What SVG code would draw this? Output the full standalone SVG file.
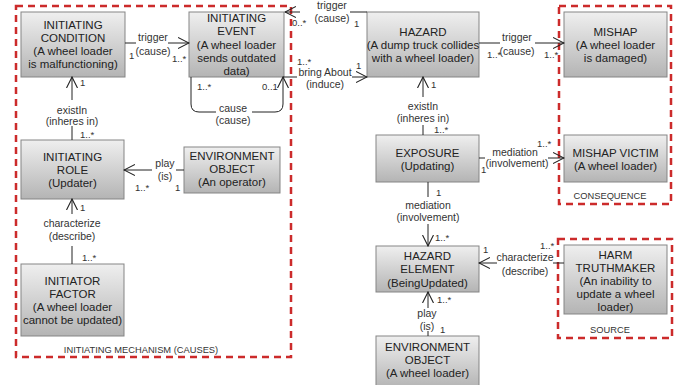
<svg xmlns="http://www.w3.org/2000/svg" width="692" height="385" viewBox="0 0 692 385">
  <defs>
    <linearGradient id="boxFill" x1="0" y1="0" x2="0" y2="1">
      <stop offset="0" stop-color="#efefef"/>
      <stop offset="1" stop-color="#b4b4b4"/>
    </linearGradient>
    <marker id="open" viewBox="0 0 12 12" refX="11" refY="6" markerWidth="12" markerHeight="12" markerUnits="userSpaceOnUse" orient="auto">
      <path d="M0,0.5 L11,6 L0,11.5" fill="none" stroke="#222" stroke-width="1.1"/>
    </marker>
    <style>
      .box rect { fill: url(#boxFill); stroke: #858585; stroke-width: 1; }
      .box text { font-family: "Liberation Sans", Arial, sans-serif; font-size: 11.5px; fill: #222; text-anchor: middle; }
      .edge { fill: none; stroke: #222; stroke-width: 1; }
      .arrow { marker-end: url(#open); }
      .lbl { font-family: "Liberation Sans", Arial, sans-serif; font-size: 10.5px; fill: #333; text-anchor: middle; }
      .mult { font-family: "Liberation Sans", Arial, sans-serif; font-size: 9.5px; fill: #333; }
      .zone { fill: none; stroke: #cc2b2b; stroke-width: 2.5; stroke-dasharray: 7 5; }
      .zlbl { font-family: "Liberation Sans", Arial, sans-serif; font-size: 9.3px; fill: #333; text-anchor: middle; }
    </style>
  </defs>
  <rect width="692" height="385" fill="#ffffff"/>

  <!-- nodes -->
  <g id="initiating-condition" class="box">
    <rect x="21" y="12" width="104" height="65"/>
    <text x="73" y="29">INITIATING</text>
    <text x="73" y="42">CONDITION</text>
    <text x="73" y="55">(A wheel loader</text>
    <text x="73" y="68">is malfunctioning)</text>
  </g>
  <g id="initiating-event" class="box">
    <rect x="189" y="12" width="95" height="65"/>
    <text x="236.5" y="22">INITIATING</text>
    <text x="236.5" y="35">EVENT</text>
    <text x="236.5" y="49">(A wheel loader</text>
    <text x="236.5" y="62">sends outdated</text>
    <text x="236.5" y="75">data)</text>
  </g>
  <g id="hazard" class="box">
    <rect x="367" y="12" width="112" height="65"/>
    <text x="423" y="36">HAZARD</text>
    <text x="423" y="49">(A dump truck collides</text>
    <text x="423" y="62">with a wheel loader)</text>
  </g>
  <g id="mishap" class="box">
    <rect x="564" y="12" width="103" height="65"/>
    <text x="615.5" y="36">MISHAP</text>
    <text x="615.5" y="49">(A wheel loader</text>
    <text x="615.5" y="62">is damaged)</text>
  </g>
  <g id="initiating-role" class="box">
    <rect x="21" y="140" width="103" height="59"/>
    <text x="72.5" y="161">INITIATING</text>
    <text x="72.5" y="174">ROLE</text>
    <text x="72.5" y="187">(Updater)</text>
  </g>
  <g id="environment-object-operator" class="box">
    <rect x="184" y="147" width="96" height="46"/>
    <text x="232" y="160">ENVIRONMENT</text>
    <text x="232" y="173">OBJECT</text>
    <text x="232" y="186">(An operator)</text>
  </g>
  <g id="initiator-factor" class="box">
    <rect x="21" y="264" width="103" height="72"/>
    <text x="72.5" y="285">INITIATOR</text>
    <text x="72.5" y="298">FACTOR</text>
    <text x="72.5" y="311">(A wheel loader</text>
    <text x="72.5" y="324">cannot be updated)</text>
  </g>
  <g id="exposure" class="box">
    <rect x="376" y="135" width="103" height="47"/>
    <text x="427.5" y="157">EXPOSURE</text>
    <text x="427.5" y="170">(Updating)</text>
  </g>
  <g id="mishap-victim" class="box">
    <rect x="564" y="135" width="103" height="47"/>
    <text x="615.5" y="157">MISHAP VICTIM</text>
    <text x="615.5" y="170">(A wheel loader)</text>
  </g>
  <g id="hazard-element" class="box">
    <rect x="376" y="246" width="103" height="46"/>
    <text x="427.5" y="260">HAZARD</text>
    <text x="427.5" y="273">ELEMENT</text>
    <text x="427.5" y="287">(BeingUpdated)</text>
  </g>
  <g id="environment-object-loader" class="box">
    <rect x="376" y="336" width="103" height="52"/>
    <text x="427.5" y="351">ENVIRONMENT</text>
    <text x="427.5" y="364">OBJECT</text>
    <text x="427.5" y="377">(A wheel loader)</text>
  </g>
  <g id="harm-truthmaker" class="box">
    <rect x="564" y="245" width="103" height="69"/>
    <text x="615.5" y="259">HARM</text>
    <text x="615.5" y="272">TRUTHMAKER</text>
    <text x="615.5" y="285">(An inability to</text>
    <text x="615.5" y="298">update a wheel</text>
    <text x="615.5" y="311">loader)</text>
  </g>

  <!-- grouping zones -->
  <g id="zones">
    <rect class="zone" x="16" y="6" width="275" height="351"/>
    <text class="zlbl" x="141" y="353">INITIATING MECHANISM (CAUSES)</text>
    <rect class="zone" x="559" y="6" width="112" height="198"/>
    <text class="zlbl" x="610" y="199">CONSEQUENCE</text>
    <rect class="zone" x="558" y="239" width="114" height="99"/>
    <text class="zlbl" x="610" y="333">SOURCE</text>
  </g>

  <!-- connectors -->
  <g id="connectors">
    <!-- condition triggers event -->
    <path class="edge" d="M125,43 H136"/>
    <path class="edge arrow" d="M168,43 H189"/>
    <text class="lbl" x="153" y="41">trigger</text>
    <text class="lbl" x="153" y="55">(cause)</text>
    <text class="mult" x="129" y="59">1</text>
    <text class="mult" x="172" y="62">1..*</text>

    <!-- event causes event (self loop) -->
    <path class="edge" d="M191,77 V104 Q191,112 199,112 H216"/>
    <path class="edge arrow" d="M252,112 H275 Q283,112 283,104 V77"/>
    <text class="lbl" x="233" y="112">cause</text>
    <text class="lbl" x="233" y="124">(cause)</text>
    <text class="mult" x="197" y="90">1..*</text>
    <text class="mult" x="262" y="90">0..1</text>

    <!-- hazard triggers event -->
    <path class="edge" d="M367,12 H350"/>
    <path class="edge arrow" d="M300,12 H285"/>
    <text class="lbl" x="332" y="9">trigger</text>
    <text class="lbl" x="332" y="22">(cause)</text>
    <text class="mult" x="292" y="26">0..*</text>
    <text class="mult" x="354" y="27">1</text>

    <!-- event brings about hazard -->
    <path class="edge" d="M283,77 H297"/>
    <path class="edge arrow" d="M352,77 H367"/>
    <text class="lbl" x="325" y="76">bring About</text>
    <text class="lbl" x="325" y="88">(induce)</text>
    <text class="mult" x="297" y="65">1..*</text>
    <text class="mult" x="356" y="69">1</text>

    <!-- hazard triggers mishap -->
    <path class="edge" d="M479,43 H500"/>
    <path class="edge arrow" d="M535,43 H564"/>
    <text class="lbl" x="517" y="41">trigger</text>
    <text class="lbl" x="517" y="55">(cause)</text>
    <text class="mult" x="487" y="58">1..*</text>
    <text class="mult" x="544" y="58">1..*</text>

    <!-- role exists in condition -->
    <path class="edge" d="M72,140 V126"/>
    <path class="edge arrow" d="M72,100 V77"/>
    <text class="lbl" x="72" y="114">existIn</text>
    <text class="lbl" x="72" y="125">(inheres in)</text>
    <text class="mult" x="80" y="86">1</text>
    <text class="mult" x="80" y="138">1..*</text>

    <!-- operator plays role -->
    <path class="edge" d="M184,170 H176"/>
    <path class="edge arrow" d="M152,170 H124"/>
    <text class="lbl" x="165" y="167">play</text>
    <text class="lbl" x="165" y="180">(is)</text>
    <text class="mult" x="135" y="191">1..*</text>
    <text class="mult" x="175" y="191">1</text>

    <!-- factor characterizes role -->
    <path class="edge" d="M72,264 V246"/>
    <path class="edge arrow" d="M72,214 V199"/>
    <text class="lbl" x="72" y="227">characterize</text>
    <text class="lbl" x="72" y="240">(describe)</text>
    <text class="mult" x="80" y="211">1</text>
    <text class="mult" x="82" y="261">1..*</text>

    <!-- exposure exists in hazard -->
    <path class="edge" d="M423,135 V125"/>
    <path class="edge arrow" d="M423,97 V77"/>
    <text class="lbl" x="423" y="110">existIn</text>
    <text class="lbl" x="423" y="122">(inheres in)</text>
    <text class="mult" x="431" y="88">1</text>
    <text class="mult" x="434" y="133">1..*</text>

    <!-- exposure mediates mishap victim -->
    <path class="edge" d="M479,158 H485"/>
    <path class="edge arrow" d="M548,158 H564"/>
    <text class="lbl" x="515" y="156">mediation</text>
    <text class="lbl" x="517" y="167">(involvement)</text>
    <text class="mult" x="537" y="147">1..*</text>
    <text class="mult" x="481" y="173">1</text>

    <!-- exposure mediates hazard element -->
    <path class="edge" d="M428,182 V197"/>
    <path class="edge arrow" d="M428,224 V246"/>
    <text class="lbl" x="428" y="209">mediation</text>
    <text class="lbl" x="428" y="221">(involvement)</text>
    <text class="mult" x="436" y="196">1</text>
    <text class="mult" x="435" y="241">1..*</text>

    <!-- truthmaker characterizes hazard element -->
    <path class="edge" d="M564,263 H553"/>
    <path class="edge arrow" d="M497,263 H479"/>
    <text class="lbl" x="525" y="261">characterize</text>
    <text class="lbl" x="525" y="275">(describe)</text>
    <text class="mult" x="483" y="253">1</text>
    <text class="mult" x="540" y="249">1..*</text>

    <!-- wheel loader plays hazard element -->
    <path class="edge" d="M428,336 V331"/>
    <path class="edge arrow" d="M428,308 V292"/>
    <text class="lbl" x="427" y="317">play</text>
    <text class="lbl" x="427" y="330">(is)</text>
    <text class="mult" x="437" y="303">1..*</text>
    <text class="mult" x="440" y="333">1</text>
  </g>
</svg>
